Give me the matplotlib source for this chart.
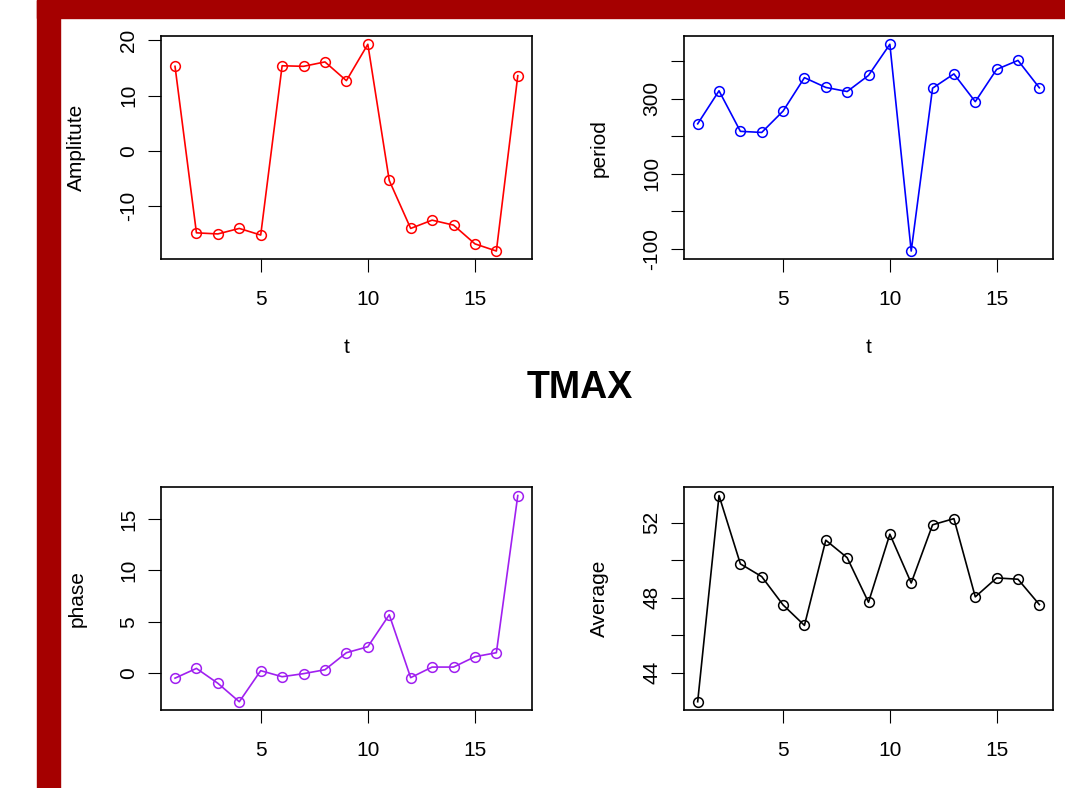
import numpy as np
import matplotlib
matplotlib.use("Agg")
import matplotlib.pyplot as plt
from matplotlib.patches import Rectangle

plt.rcParams['font.family'] = ['Liberation Sans', 'DejaVu Sans']

# data
t = np.arange(1, 18)
amplitude = [15.3, -14.9, -15.1, -14.1, -15.3, 15.4, 15.3, 16.1, 12.7, 19.3,
             -5.4, -14.1, -12.6, -13.5, -16.9, -18.2, 13.6]
period = [233, 321, 213, 210, 267, 356, 330, 319, 362, 445,
          -106, 328, 366, 292, 378, 402, 329]
phase = [-0.5, 0.45, -1.0, -2.8, 0.23, -0.36, -0.06, 0.32, 1.98, 2.56,
         5.68, -0.45, 0.58, 0.58, 1.59, 1.98, 17.3]
average = [42.45, 53.44, 49.8, 49.12, 47.61, 46.52, 51.06, 50.13, 47.75, 51.38,
           48.78, 51.88, 52.21, 48.04, 49.05, 48.98, 47.63]

panels = [
    (amplitude, "red", "Amplitute", [-10, 0, 10, 20], ["-10", "0", "10", "20"]),
    (period, "blue", "period", [-100, 0, 100, 200, 300, 400],
     ["-100", "", "100", "", "300", ""]),
    (phase, "#A020F0", "phase", [0, 5, 10, 15], ["0", "5", "10", "15"]),
    (average, "black", "Average", [44, 46, 48, 50, 52], ["44", "", "48", "", "52"]),
]

W, H = 1065, 788
fig = plt.figure(figsize=(W / 100, H / 100), dpi=100)

# red slide frame (L shape, top and left)
fig.patches.append(Rectangle((37 / W, 0), 23 / W, 1, transform=fig.transFigure,
                             color="#A50000", zorder=0))
fig.patches.append(Rectangle((37 / W, 1 - 17.5 / H), 1, 17.5 / H,
                             transform=fig.transFigure, color="#A50000", zorder=0))

# axes boxes in pixels: left, right, top, bottom
boxes = [(161.3, 531.5, 36.0, 259.3), (684.0, 1053.0, 36.0, 259.3),
         (161.3, 531.5, 487.3, 710.0), (684.0, 1053.0, 487.3, 710.0)]

for (vals, col, ylab, yt, ytl), (l, r, tp, b) in zip(panels, boxes):
    ax = fig.add_axes([l / W, 1 - b / H, (r - l) / W, (b - tp) / H])
    ax.plot(t, vals, color=col, lw=1.2, marker="o", ms=7, mfc="none",
            mec=col, mew=1.1)
    ax.margins(x=0.04, y=0.04)
    ax.set_xticks([5, 10, 15])
    ax.set_yticks(yt)
    ax.set_yticklabels(ytl)
    ax.tick_params(axis="both", length=9.2, width=0.8, labelsize=15)
    ax.tick_params(axis="x", pad=13.0)
    ax.tick_params(axis="y", pad=7.3, labelrotation=90)
    for lab in ax.get_yticklabels():
        lab.set_va("center")
    for s in ax.spines.values():
        s.set_linewidth(1.2)
    # bottom row's "t" falls partly below the picture, as in the reference
    ax.set_xlabel("t", fontsize=15)
    ax.xaxis.set_label_coords(0.5, -88.7 / (b - tp))
    ax.xaxis.label.set_va("center")
    ax.set_ylabel(ylab, fontsize=15)
    ax.yaxis.set_label_coords(-84.6 / (r - l), 0.5)
    ax.yaxis.label.set_va("center")

fig.text(580 / W, 1 - 388 / H, "TMAX", fontsize=27, fontweight="bold",
         ha="center", va="center")

fig.savefig("out.png", dpi=100)
